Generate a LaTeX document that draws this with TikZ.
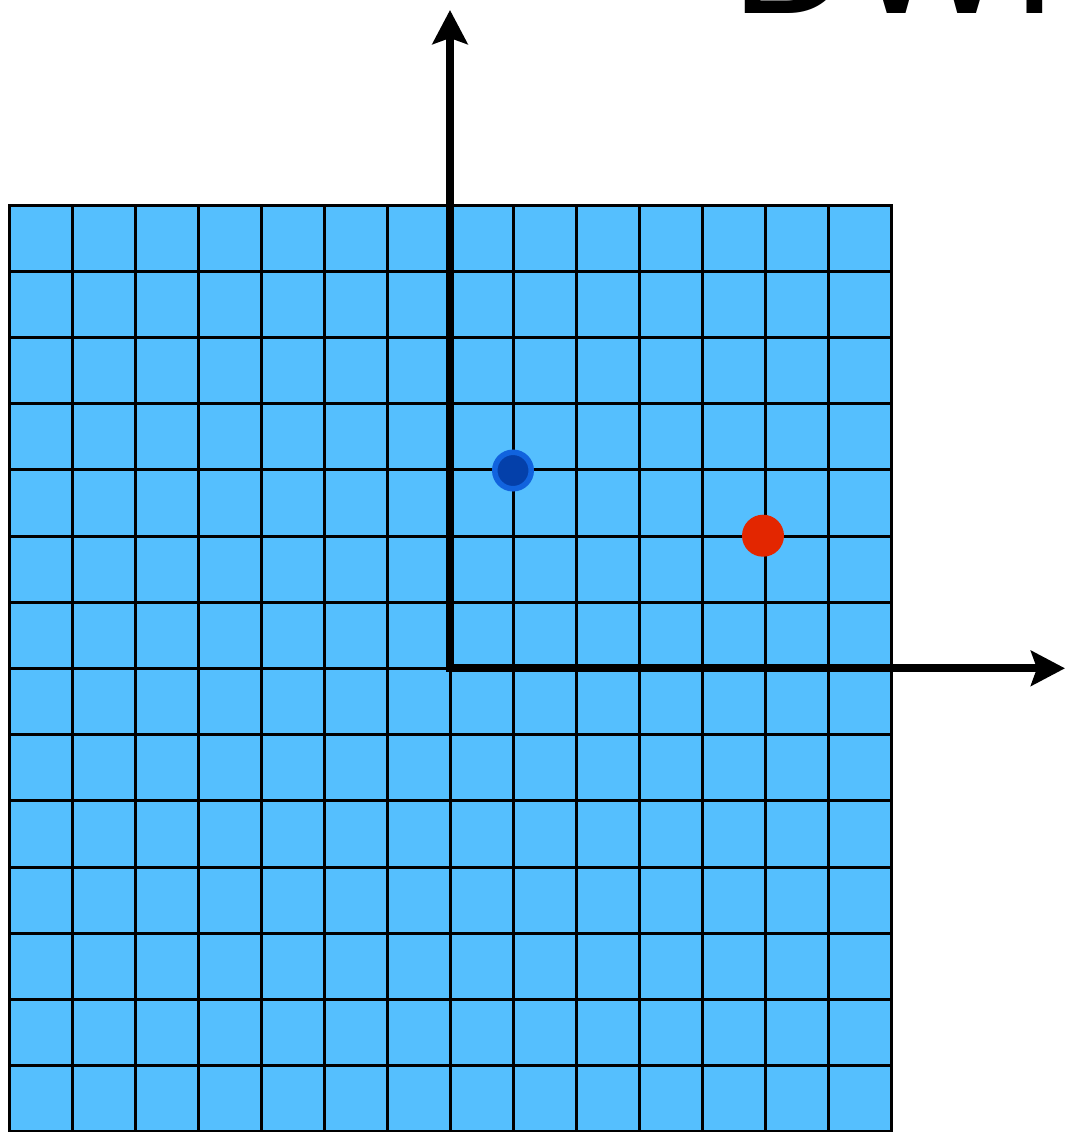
\documentclass[tikz,border=0pt]{standalone}
\usepackage{fontspec}
\setmainfont{Liberation Sans}
\usetikzlibrary{arrows.meta}
\definecolor{cellblue}{RGB}{85,191,254}
\definecolor{ringblue}{RGB}{17,99,222}
\definecolor{coreblue}{RGB}{4,64,170}
\definecolor{dotred}{RGB}{227,38,0}
\begin{document}
\begin{tikzpicture}[x=0.5pt,y=-0.5pt,
  gridline/.style={line width=1.5pt, black, line cap=rect},
  axistip/.tip={Stealth[length=17pt,width=17.5pt,inset=3pt]},
  axisline/.style={line width=3.9pt, black, line join=miter, axistip-axistip},
  bluedot/.style={circle, inner sep=0pt, outer sep=0pt, minimum size=18.25pt, fill=coreblue, draw=ringblue, line width=2.75pt},
  reddot/.style={circle, inner sep=0pt, outer sep=0pt, minimum size=21pt, fill=dotred},
  titletext/.style={anchor=base west, inner sep=0pt, outer sep=0pt, font=\fontsize{84}{84}\selectfont}]
\useasboundingbox (0,0) rectangle (1071,1132);
% pixel grid
\fill[cellblue] (9,205) rectangle (891,1132);
\foreach \i in {0,...,14} \draw[gridline] ({9+63*\i},205) -- ({9+63*\i},1132);
\foreach \j in {0,...,14} \draw[gridline] (9,{205+66.2*\j}) -- (891,{205+66.2*\j});
% axes
\coordinate (O) at (450,668.3);
\coordinate (ytip) at (450,10);
\coordinate (xtip) at (1065,668.3);
\draw[axisline] (ytip) -- (O) -- (xtip);
% points
\node[bluedot] (pblue) at (513,470.5) {};
\node[reddot] (pred) at (763,535.7) {};
% title (cut off at the top, as in the reference)
\node[titletext] (title) at (731.7,13) {DWI};
\end{tikzpicture}
\end{document}
